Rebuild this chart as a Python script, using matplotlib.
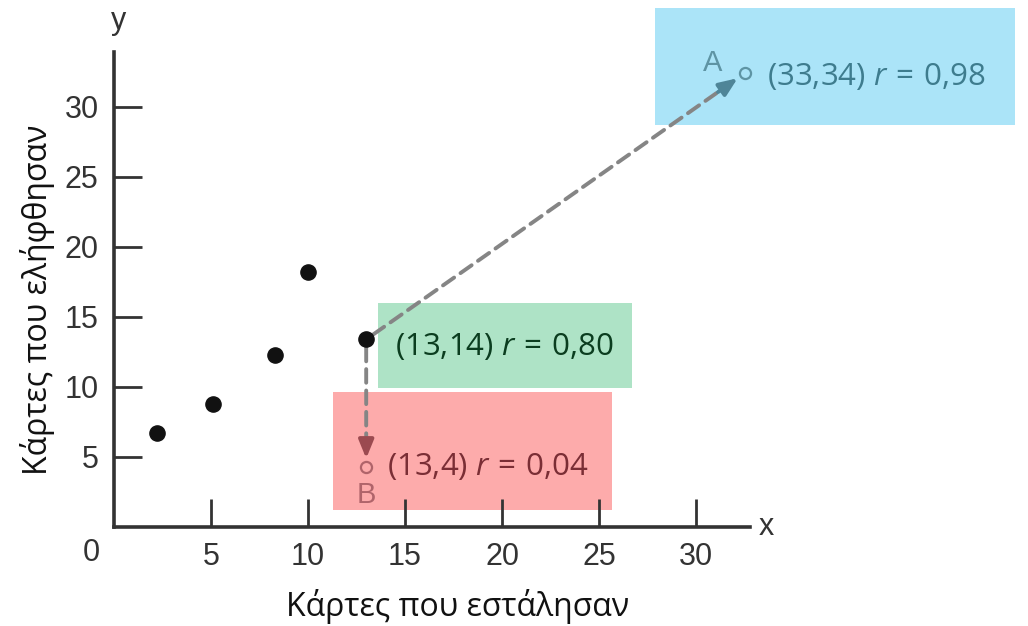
import matplotlib
matplotlib.use('Agg')
import matplotlib.pyplot as plt
from matplotlib.patches import Rectangle

# Data
sent = [2.2, 5.1, 8.3, 10.0, 13.0]
received = [6.7, 8.8, 12.3, 18.2, 13.4]
point_a = (32.5, 32.4)
point_b = (13.0, 4.3)
ticks = [5, 10, 15, 20, 25, 30]

label_mid = '(13,14) $r\\,=\\,0{,}80$'
label_a = '(33,34) $r\\,=\\,0{,}98$'
label_b = '(13,4) $r\\,=\\,0{,}04$'

plt.rcParams['mathtext.fontset'] = 'custom'
plt.rcParams['mathtext.rm'] = 'Open Sans'
plt.rcParams['mathtext.it'] = 'Open Sans:italic'

W, H = 1028, 626
fig = plt.figure(figsize=(W / 100, H / 100), dpi=100)

# axes placed so that origin sits at pixel (114, 527)
x0, y0, x1, y1 = 114, 527, 750, 52
ax = fig.add_axes([x0 / W, 1 - y0 / H, (x1 - x0) / W, (y0 - y1) / H])
ax.set_xlim(0, (x1 - x0) / 19.4)
ax.set_ylim(0, (y0 - y1) / 14.0)

for s in ['top', 'right']:
    ax.spines[s].set_visible(False)
for s in ['left', 'bottom']:
    ax.spines[s].set_linewidth(2.6)
    ax.spines[s].set_color('#333333')

ax.set_xticks(ticks)
ax.set_yticks(ticks)
ax.tick_params(direction='in', length=20, width=2, color='#333333',
               labelsize=22, labelcolor='#333333', pad=11)
for lbl in ax.get_xticklabels() + ax.get_yticklabels():
    lbl.set_family('Liberation Sans')

ax.text(-0.035, -0.055, '0', transform=ax.transAxes, ha='center', va='center',
        fontsize=22, color='#333333', family='Liberation Sans')
ax.text(1.025, 0.0, 'x', transform=ax.transAxes, ha='center', va='center',
        fontsize=22, color='#333333', family='Liberation Sans')
ax.text(0.007, 1.065, 'y', transform=ax.transAxes, ha='center', va='center',
        fontsize=22, color='#333333', family='Liberation Sans')

fig.text(458 / W, 1 - 607 / H, 'Κάρτες που εστάλησαν', ha='center', va='center',
         fontsize=23, family='Open Sans', color='#111111')
fig.text(38 / W, 1 - 300 / H, 'Κάρτες που ελήφθησαν', ha='center', va='center',
         rotation=90, fontsize=23, family='Open Sans', color='#111111')

# coloured boxes (pixel boxes: left, top, right, bottom)
boxes = [((655, 8, 1015, 125), '#abe4f8'),
         ((378, 303, 632, 388), '#aee3c6'),
         ((333, 392, 612, 510), '#fdabab')]
for (l, t, r, b), c in boxes:
    fig.add_artist(Rectangle((l / W, 1 - b / H), (r - l) / W, (b - t) / H,
                             transform=fig.transFigure, facecolor=c,
                             edgecolor='none', zorder=0))

ax.set_facecolor('none')
fig.patch.set_facecolor('white')

start = (sent[-1], received[-1])
# dashed grey shafts, coloured heads
for end, head_col in [(point_a, '#4f8598'), (point_b, '#9b4a50')]:
    ax.annotate('', xy=end, xytext=start,
                arrowprops=dict(arrowstyle='-', linestyle=(0, (3.5, 2)), lw=2.8,
                                color='#858585', shrinkA=6, shrinkB=18),
                annotation_clip=False, zorder=3)
    near = (end[0] - (end[0] - start[0]) * 0.07, end[1] - (end[1] - start[1]) * 0.07)
    if end == point_b:
        near = (end[0], end[1] + 2.0)
    ax.annotate('', xy=end, xytext=near,
                arrowprops=dict(arrowstyle='-|>,head_length=1.1,head_width=0.45',
                                lw=2.8, color=head_col, shrinkA=0, shrinkB=6),
                annotation_clip=False, zorder=3)

ax.scatter(sent, received, s=120, color='#111111', zorder=4, clip_on=False)
ax.plot(*point_a, 'o', ms=8, mfc='none', mec='#5e94a4', mew=1.6, clip_on=False, zorder=4)
ax.plot(*point_b, 'o', ms=8, mfc='none', mec='#b0646a', mew=1.6, clip_on=False, zorder=4)

ax.annotate(label_mid, xy=start, xytext=(29, -7),
            textcoords='offset pixels', ha='left', va='center', fontsize=22.5,
            family='Open Sans', color='#0b3d1f', annotation_clip=False)
ax.annotate(label_a, xy=point_a, xytext=(22, -3), textcoords='offset pixels',
            ha='left', va='center', fontsize=22.5, family='Open Sans',
            color='#3e7c8e', annotation_clip=False)
ax.annotate('A', xy=point_a, xytext=(-32, 10), textcoords='offset pixels',
            ha='center', va='center', fontsize=21, family='Liberation Sans',
            color='#5e94a4', annotation_clip=False)
ax.annotate(label_b, xy=point_b, xytext=(21, 0), textcoords='offset pixels',
            ha='left', va='center', fontsize=22.5, family='Open Sans',
            color='#7a2e35', annotation_clip=False)
ax.annotate('B', xy=point_b, xytext=(0, -28), textcoords='offset pixels',
            ha='center', va='center', fontsize=21, family='Liberation Sans',
            color='#b0646a', annotation_clip=False)

fig.savefig('out.png', dpi=100)
